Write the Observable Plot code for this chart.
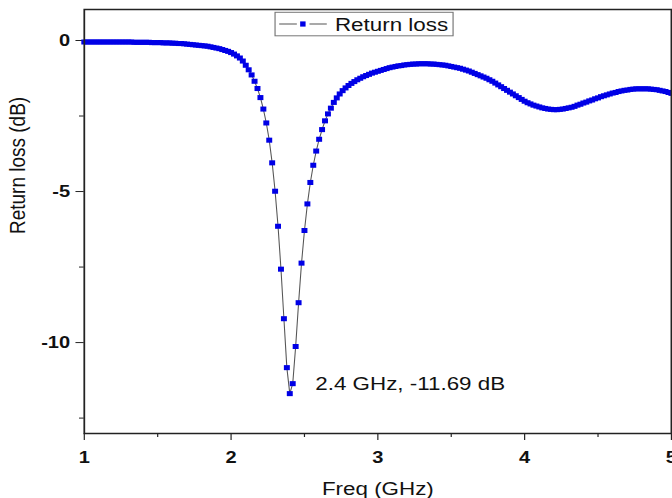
<!DOCTYPE html>
<html><head><meta charset="utf-8">
<script src="https://cdn.jsdelivr.net/npm/d3@7"></script>
<script src="https://cdn.jsdelivr.net/npm/@observablehq/plot@0.6"></script>
<style>
body{margin:0;background:#fff}
svg{display:block}
svg [aria-label$="tick label"] text{font-weight:bold}
</style>
</head><body><div id="chart"></div>
<script>
const freq = [
1.00,1.02,1.04,1.06,1.08,1.10,1.12,1.14,1.16,1.18,
1.20,1.22,1.24,1.26,1.28,1.30,1.32,1.34,1.36,1.38,
1.40,1.42,1.44,1.46,1.48,1.50,1.52,1.54,1.56,1.58,
1.60,1.62,1.64,1.66,1.68,1.70,1.72,1.74,1.76,1.78,
1.80,1.82,1.84,1.86,1.88,1.90,1.92,1.94,1.96,1.98,
2.00,2.02,2.04,2.06,2.08,2.10,2.12,2.14,2.16,2.18,
2.20,2.22,2.24,2.26,2.28,2.30,2.32,2.34,2.36,2.38,
2.40,2.42,2.44,2.46,2.48,2.50,2.52,2.54,2.56,2.58,
2.60,2.62,2.64,2.66,2.68,2.70,2.72,2.74,2.76,2.78,
2.80,2.82,2.84,2.86,2.88,2.90,2.92,2.94,2.96,2.98,
3.00,3.02,3.04,3.06,3.08,3.10,3.12,3.14,3.16,3.18,
3.20,3.22,3.24,3.26,3.28,3.30,3.32,3.34,3.36,3.38,
3.40,3.42,3.44,3.46,3.48,3.50,3.52,3.54,3.56,3.58,
3.60,3.62,3.64,3.66,3.68,3.70,3.72,3.74,3.76,3.78,
3.80,3.82,3.84,3.86,3.88,3.90,3.92,3.94,3.96,3.98,
4.00,4.02,4.04,4.06,4.08,4.10,4.12,4.14,4.16,4.18,
4.20,4.22,4.24,4.26,4.28,4.30,4.32,4.34,4.36,4.38,
4.40,4.42,4.44,4.46,4.48,4.50,4.52,4.54,4.56,4.58,
4.60,4.62,4.64,4.66,4.68,4.70,4.72,4.74,4.76,4.78,
4.80,4.82,4.84,4.86,4.88,4.90,4.92,4.94,4.96,4.98,
5.00];
const returnLoss = [
-0.05,-0.05,-0.05,-0.05,-0.05,-0.05,-0.05,-0.05,-0.05,-0.05,
-0.05,-0.05,-0.05,-0.05,-0.05,-0.05,-0.05,-0.06,-0.06,-0.06,
-0.06,-0.06,-0.06,-0.07,-0.07,-0.07,-0.07,-0.08,-0.08,-0.08,
-0.09,-0.09,-0.10,-0.10,-0.11,-0.12,-0.13,-0.14,-0.15,-0.16,
-0.17,-0.18,-0.19,-0.21,-0.23,-0.25,-0.27,-0.30,-0.33,-0.36,
-0.40,-0.45,-0.51,-0.58,-0.68,-0.82,-0.97,-1.14,-1.35,-1.59,
-1.89,-2.27,-2.73,-3.30,-4.05,-4.99,-6.15,-7.57,-9.21,-10.83,
-11.69,-11.36,-10.13,-8.68,-7.37,-6.29,-5.41,-4.70,-4.13,-3.66,
-3.27,-2.95,-2.66,-2.43,-2.24,-2.05,-1.90,-1.77,-1.66,-1.57,
-1.49,-1.42,-1.36,-1.30,-1.25,-1.20,-1.16,-1.12,-1.08,-1.05,
-1.02,-0.99,-0.96,-0.93,-0.90,-0.88,-0.86,-0.84,-0.83,-0.81,
-0.80,-0.79,-0.78,-0.78,-0.77,-0.77,-0.77,-0.77,-0.78,-0.78,
-0.79,-0.80,-0.81,-0.82,-0.84,-0.86,-0.88,-0.90,-0.92,-0.95,
-0.98,-1.01,-1.05,-1.09,-1.13,-1.17,-1.21,-1.25,-1.30,-1.35,
-1.41,-1.47,-1.53,-1.59,-1.65,-1.71,-1.77,-1.83,-1.89,-1.95,
-2.01,-2.06,-2.10,-2.14,-2.17,-2.20,-2.23,-2.25,-2.27,-2.28,
-2.29,-2.29,-2.28,-2.27,-2.25,-2.23,-2.21,-2.18,-2.14,-2.11,
-2.07,-2.04,-2.00,-1.97,-1.93,-1.90,-1.86,-1.83,-1.80,-1.77,
-1.74,-1.72,-1.69,-1.67,-1.65,-1.64,-1.62,-1.61,-1.60,-1.60,
-1.60,-1.60,-1.60,-1.61,-1.62,-1.63,-1.65,-1.67,-1.69,-1.72,
-1.75];
const xTicks = [1, 2, 3, 4, 5];
const xMinorTicks = [1.5, 2.5, 3.5, 4.5];
const yTicks = [0, -5, -10];
const yMinorTicks = [-2.5, -7.5, -12.5];
const seriesName = "Return loss";
const xTitle = "Freq (GHz)";
const yTitle = "Return loss (dB)";
const annotFreq = [2.4];
const annotValue = [-11.69];
const annotText = ["2.4 GHz, -11.69 dB"];

const data = freq.map((f, i) => ({f, rl: returnLoss[i]}));
const annot = annotFreq.map((f, i) => ({f, rl: annotValue[i], t: annotText[i]}));

// The reference is horizontally stretched: draw at W wide then stretch to 672
const W = 570, H = 498, OUTW = 672;
const blue = "#0000e6";
const font = "'Liberation Sans', Arial, sans-serif";

const chart = Plot.plot({
  width: W, height: H,
  marginLeft: 71, marginRight: 1, marginTop: 9, marginBottom: 65,
  style: {fontFamily: font, fontSize: "17px", color: "#111", background: "#fff"},
  x: {domain: [1, 5]},
  y: {domain: [-13.01, 1.026]},
  marks: [
    Plot.axisX(xTicks, {tickSize: 7, tickPadding: 10, tickFormat: d => String(d), label: null, fontSize: 17, fontWeight: "bold", stroke: "#222"}),
    Plot.axisX(xMinorTicks, {tickSize: 4, tickFormat: () => "", label: null, stroke: "#222"}),
    Plot.axisY(yTicks, {tickSize: 7, tickPadding: 5, tickFormat: d => String(d), label: null, fontSize: 17, fontWeight: "bold", stroke: "#222"}),
    Plot.axisY(yMinorTicks, {tickSize: 4, tickFormat: () => "", label: null, stroke: "#222"}),
    Plot.line(data, {x: "f", y: "rl", stroke: "#555", strokeWidth: 0.9}),
    Plot.dot(data, {x: "f", y: "rl", symbol: "square", r: 2.85, fill: blue, stroke: "none"}),
    Plot.text(annot, {x: "f", y: "rl", text: "t", textAnchor: "start", lineAnchor: "middle", dx: 21.6, dy: -9.5, fontSize: 19, fill: "#111"}),
    Plot.text([xTitle], {frameAnchor: "bottom", lineAnchor: "bottom", dy: 61, fontSize: 19, fill: "#111"}),
    Plot.text([yTitle], {frameAnchor: "left", rotate: -90, dx: -56.6, dy: 12.5, fontSize: 19, fill: "#111"}),
    Plot.frame({stroke: "#222", strokeWidth: 1.5})
  ]
});

// legend
const svg = d3.select(chart);
const lg = svg.append("g").attr("aria-label", "legend");
lg.append("rect").attr("x", 233.3).attr("y", 12.3).attr("width", 151).attr("height", 23.5)
  .attr("fill", "#fff").attr("stroke", "#777").attr("stroke-width", 1);
lg.append("path").attr("d", "M236.8,24H251.8M262.5,24H277.2").attr("fill", "none").attr("stroke", "#555").attr("stroke-width", 1);
lg.append("rect").attr("x", 254.6).attr("y", 21.4).attr("width", 4.6).attr("height", 5.2).attr("fill", blue);
lg.append("text").attr("x", 284.1).attr("y", 31).attr("text-anchor", "start").attr("font-size", 19).attr("fill", "#111").attr("font-family", font).text(seriesName);

chart.setAttribute("viewBox", `0 0 ${W} ${H}`);
chart.setAttribute("preserveAspectRatio", "none");
chart.setAttribute("width", OUTW);
chart.setAttribute("height", H);
chart.style.width = OUTW + "px";
chart.style.height = H + "px";
chart.style.maxWidth = "none";
document.getElementById("chart").appendChild(chart);
</script>
</body></html>
